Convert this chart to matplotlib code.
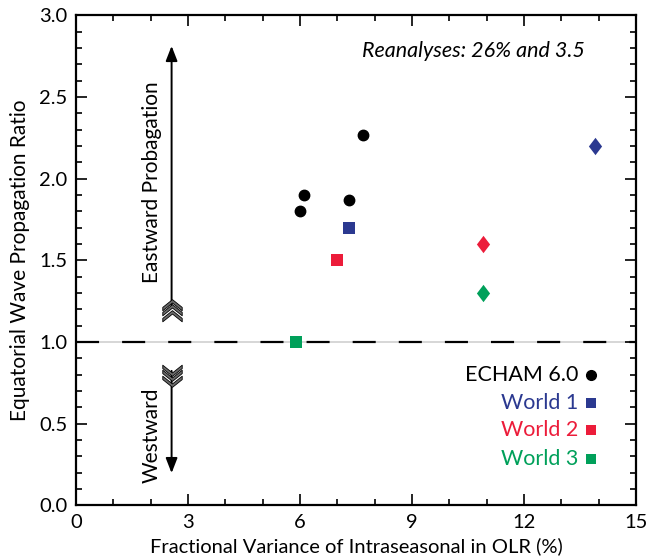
import matplotlib
matplotlib.use("Agg")
import matplotlib.pyplot as plt
from matplotlib.path import Path
from matplotlib.ticker import MultipleLocator, FormatStrFormatter

plt.rcParams['font.family'] = ['Lato', 'DejaVu Sans']
plt.rcParams['lines.scale_dashes'] = False

# Data
echam_x = [6.0, 6.1, 7.3, 7.7]
echam_y = [1.80, 1.90, 1.87, 2.27]
world_names = ["World 1", "World 2", "World 3"]
world_colors = ["#2b3990", "#ec1c3a", "#00a05a"]
world_sq_x = [7.3, 7.0, 5.9]
world_sq_y = [1.70, 1.50, 1.00]
world_di_x = [13.9, 10.9, 10.9]
world_di_y = [2.20, 1.60, 1.30]

fig = plt.figure(figsize=(6.47, 5.6), dpi=100)
ax = fig.add_axes([0.1175, 0.0977, 0.8655, 0.8748])
ax.set_xlim(0, 15)
ax.set_ylim(0, 3)

ax.xaxis.set_major_locator(MultipleLocator(3))
ax.xaxis.set_minor_locator(MultipleLocator(1))
ax.yaxis.set_major_locator(MultipleLocator(0.5))
ax.yaxis.set_minor_locator(MultipleLocator(0.1))
ax.tick_params(which='both', direction='in', top=True, right=True, labelsize=14.5, width=1.2, pad=6)
ax.tick_params(which='major', length=8)
ax.tick_params(which='minor', length=4)
ax.yaxis.set_major_formatter(FormatStrFormatter('%.1f'))
for s in ax.spines.values():
    s.set_linewidth(1.6)

ax.set_xlabel("Fractional Variance of Intraseasonal in OLR (%)", fontsize=14.5, labelpad=5)
ax.set_ylabel("Equatorial Wave Propagation Ratio", fontsize=15, labelpad=7)

# reference line at 1.0
ax.axhline(1.0, color='#d0d0d0', lw=1.2, zorder=1)
ax.axhline(1.0, color='black', lw=1.6, dashes=(16.6, 16.6), zorder=2)

# markers
diamond = Path([(0, 1), (0.76, 0), (0, -1), (-0.76, 0), (0, 1)],
               [Path.MOVETO, Path.LINETO, Path.LINETO, Path.LINETO, Path.CLOSEPOLY])
ax.plot(echam_x, echam_y, 'o', color='black', ms=7.5, zorder=5, ls='none')
for c, sx, sy, dx, dy in zip(world_colors, world_sq_x, world_sq_y, world_di_x, world_di_y):
    ax.plot([sx], [sy], 's', color=c, ms=8, mew=0, zorder=5)
    ax.plot([dx], [dy], marker=diamond, color=c, ms=12.5, mew=0, zorder=5, ls='none')

# arrows
ax_x = 2.56
ax.annotate('', xy=(ax_x, 2.83), xytext=(ax_x, 1.2),
            arrowprops=dict(arrowstyle='-|>,head_length=0.9,head_width=0.35', color='black', lw=1.4))
ax.annotate('', xy=(ax_x, 0.18), xytext=(ax_x, 0.84),
            arrowprops=dict(arrowstyle='-|>,head_length=0.9,head_width=0.35', color='black', lw=1.4))

chev_up = Path([(-1, -0.3), (0, 0.5), (1, -0.3), (1, -0.65), (0, 0.15), (-1, -0.65), (-1, -0.3)],
               [Path.MOVETO] + [Path.LINETO] * 5 + [Path.CLOSEPOLY])
chev_dn = Path([(x, -y) for x, y in chev_up.vertices], chev_up.codes)
for yy in [1.165, 1.2, 1.235]:
    ax.plot([ax_x], [yy], marker=chev_up, ms=14, color='#6a6a6a', mec='black', mew=0.6, zorder=4)
for yy in [0.755, 0.79, 0.825]:
    ax.plot([ax_x], [yy], marker=chev_dn, ms=14, color='#6a6a6a', mec='black', mew=0.6, zorder=4)

ax.text(2.03, 1.98, "Eastward Probagation", rotation=90, ha='center', va='center', fontsize=15)
ax.text(2.03, 0.43, "Westward", rotation=90, ha='center', va='center', fontsize=15)

ax.text(13.63, 2.78, "Reanalyses: 26% and 3.5", style='italic', ha='right', va='center', fontsize=15.5)

# legend
leg_tx = 13.45
leg_mx = 13.8
leg_y = [0.80, 0.626, 0.462, 0.284]
ax.text(leg_tx, leg_y[0], "ECHAM 6.0", ha='right', va='center', fontsize=15.5, color='black')
ax.plot([leg_mx], [leg_y[0]], 'o', color='black', ms=7)
for name, c, yy in zip(world_names, world_colors, leg_y[1:]):
    ax.text(leg_tx, yy, name, ha='right', va='center', fontsize=15.5, color=c)
    ax.plot([leg_mx], [yy], 's', color=c, ms=7.5, mew=0)

fig.savefig("out.png", dpi=100)
